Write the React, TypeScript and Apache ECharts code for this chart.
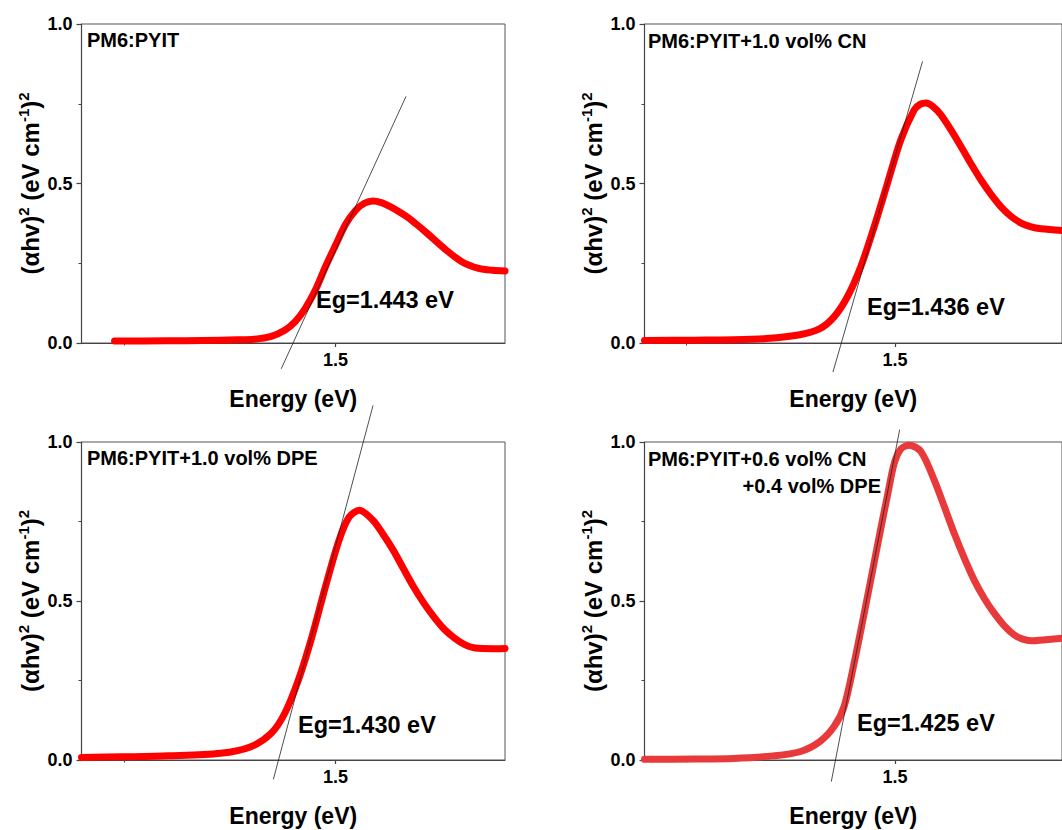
import React, { useEffect, useRef } from "react";
import * as echarts from "echarts";

const FONT = "'Liberation Sans', Arial, Helvetica, sans-serif";

// ---- data (energy in eV, (αhv)^2 normalised) ----
const energy1 = [1.239, 1.3, 1.343, 1.384, 1.404, 1.424, 1.44, 1.452, 1.464, 1.476, 1.488, 1.5, 1.512, 1.524, 1.534, 1.544, 1.554, 1.564, 1.574, 1.584, 1.596, 1.608, 1.628, 1.649, 1.669, 1.685, 1.7];
const absorb1 = [0.006, 0.007, 0.008, 0.01, 0.012, 0.021, 0.04, 0.066, 0.108, 0.165, 0.239, 0.307, 0.373, 0.417, 0.438, 0.445, 0.44, 0.428, 0.413, 0.396, 0.371, 0.344, 0.297, 0.255, 0.234, 0.228, 0.226];

const energy2 = [1.2, 1.26, 1.306, 1.346, 1.386, 1.41, 1.427, 1.443, 1.459, 1.475, 1.491, 1.507, 1.523, 1.53, 1.537, 1.545, 1.555, 1.567, 1.579, 1.591, 1.603, 1.615, 1.627, 1.639, 1.651, 1.663, 1.675, 1.7];
const absorb2 = [0.008, 0.009, 0.01, 0.014, 0.026, 0.045, 0.082, 0.145, 0.239, 0.364, 0.501, 0.637, 0.731, 0.748, 0.752, 0.742, 0.715, 0.668, 0.616, 0.562, 0.511, 0.466, 0.427, 0.397, 0.376, 0.364, 0.358, 0.353];

const energy3 = [1.2, 1.25, 1.303, 1.364, 1.4, 1.424, 1.44, 1.456, 1.472, 1.488, 1.504, 1.516, 1.528, 1.544, 1.556, 1.568, 1.58, 1.592, 1.604, 1.616, 1.628, 1.641, 1.653, 1.665, 1.685, 1.7];
const absorb3 = [0.008, 0.01, 0.013, 0.021, 0.042, 0.084, 0.147, 0.251, 0.387, 0.545, 0.691, 0.764, 0.785, 0.754, 0.71, 0.66, 0.602, 0.545, 0.494, 0.45, 0.412, 0.382, 0.362, 0.352, 0.35, 0.351];

const energy4 = [1.2, 1.26, 1.306, 1.354, 1.386, 1.41, 1.427, 1.439, 1.451, 1.467, 1.483, 1.491, 1.499, 1.507, 1.517, 1.531, 1.547, 1.559, 1.571, 1.583, 1.595, 1.607, 1.619, 1.631, 1.643, 1.653, 1.663, 1.683, 1.7];
const absorb4 = [0.002, 0.003, 0.005, 0.013, 0.026, 0.058, 0.105, 0.168, 0.304, 0.513, 0.728, 0.832, 0.932, 0.978, 0.99, 0.97, 0.88, 0.797, 0.712, 0.635, 0.565, 0.508, 0.461, 0.422, 0.393, 0.38, 0.375, 0.379, 0.383];

// tangent lines (linear fits of the absorption edge)
const tangent1E = [1.4358, 1.5831];
const tangent1V = [-0.081, 0.773];
const tangent2E = [1.4257, 1.533];
const tangent2V = [-0.091, 0.883];
const tangent3E = [1.4265, 1.5442];
const tangent3V = [-0.061, 1.115];
const tangent4E = [1.4237, 1.5056];
const tangent4V = [-0.068, 1.039];

const sampleNames = [
  ["PM6:PYIT"],
  ["PM6:PYIT+1.0 vol% CN"],
  ["PM6:PYIT+1.0 vol% DPE"],
  ["PM6:PYIT+0.6 vol% CN", "+0.4 vol% DPE"],
];
const gapLabels = ["Eg=1.443 eV", "Eg=1.436 eV", "Eg=1.430 eV", "Eg=1.425 eV"];

const xMajorTicks = [1.5];
const xMinorTicks = [1.25];
const xMin = 1.2;
const xMax = 1.7;
const yMin = 0;
const yMax = 1;
const yInterval = 0.5;

const xTitle = "Energy (eV)";
const yTitle = "{a|(αhv)}{s|2}{a| (eV cm}{s|-1}{a|)}{s|2}";

// ---- layout ----
const grids = [
  { left: 81.5, top: 24, width: 423.5, height: 319 },
  { left: 644.5, top: 24, width: 423.5, height: 319 },
  { left: 81.5, top: 442, width: 423.5, height: 318 },
  { left: 644.5, top: 442, width: 423.5, height: 318 },
];
const curveColors = ["#ff0000", "#ff0000", "#ff0000", "#e8393b"];
const nameStyle = [
  [{ x: 87, y: 40 }],
  [{ x: 648, y: 41 }],
  [{ x: 87, y: 457.5 }],
  [{ x: 648, y: 459 }, { x: 881, y: 486, align: "right" }],
];
const gapStyle = [
  { x: 316, y: 300 },
  { x: 867, y: 307 },
  { x: 298, y: 725 },
  { x: 857, y: 723 },
];

function zip(xs: number[], ys: number[]) {
  return xs.map((x, i) => [x, ys[i]]);
}

const curves = [
  zip(energy1, absorb1),
  zip(energy2, absorb2),
  zip(energy3, absorb3),
  zip(energy4, absorb4),
];
const tangents = [
  zip(tangent1E, tangent1V),
  zip(tangent2E, tangent2V),
  zip(tangent3E, tangent3V),
  zip(tangent4E, tangent4V),
];

const AXIS_COLOR = "#444";

function buildOption() {
  const xAxis: any[] = [];
  const yAxis: any[] = [];
  const series: any[] = [];
  const graphic: any[] = [];

  grids.forEach((g, i) => {
    xAxis.push({
      gridIndex: i,
      type: "value",
      min: xMin,
      max: xMax,
      position: "bottom",
      name: xTitle,
      nameLocation: "middle",
      nameGap: 44,
      nameTextStyle: {
        fontFamily: FONT,
        fontWeight: "bold",
        fontSize: 23,
        color: "#000",
      },
      axisLine: { show: true, lineStyle: { color: AXIS_COLOR, width: 1.2 } },
      axisTick: { show: true, length: 4, customValues: xMajorTicks, lineStyle: { color: AXIS_COLOR, width: 1.2 } },
      axisLabel: {
        show: true,
        customValues: xMajorTicks,
        margin: 8,
        fontFamily: FONT,
        fontWeight: "bold",
        fontSize: 18,
        color: "#000",
        formatter: (v: number) => v.toFixed(1),
      },
      splitLine: { show: false },
    });
    xAxis.push({
      gridIndex: i,
      type: "value",
      min: xMin,
      max: xMax,
      position: "bottom",
      axisLine: { show: false },
      axisTick: { show: true, length: 2.5, customValues: xMinorTicks, lineStyle: { color: AXIS_COLOR, width: 1 } },
      axisLabel: { show: false },
      splitLine: { show: false },
    });
    yAxis.push({
      gridIndex: i,
      type: "value",
      min: yMin,
      max: yMax,
      interval: yInterval,
      name: yTitle,
      nameLocation: "middle",
      nameGap: 36,
      nameRotate: 90,
      nameTextStyle: {
        fontFamily: FONT,
        fontWeight: "bold",
        fontSize: 24,
        color: "#000",
        rich: {
          a: { fontFamily: FONT, fontWeight: "bold", fontSize: 24, color: "#000", lineHeight: 30 },
          s: { fontFamily: FONT, fontWeight: "bold", fontSize: 15, color: "#000", lineHeight: 16, verticalAlign: "top" },
        },
      },
      axisLine: { show: true, lineStyle: { color: AXIS_COLOR, width: 1.2 } },
      axisTick: { show: true, length: 5, lineStyle: { color: AXIS_COLOR, width: 1.2 } },
      minorTick: { show: true, splitNumber: 2, length: 3, lineStyle: { color: AXIS_COLOR, width: 1 } },
      axisLabel: {
        margin: 9,
        fontFamily: FONT,
        fontWeight: "bold",
        fontSize: 18,
        color: "#000",
        formatter: (v: number) => v.toFixed(1),
      },
      splitLine: { show: false },
      minorSplitLine: { show: false },
    });
    series.push({
      type: "line",
      xAxisIndex: i * 2,
      yAxisIndex: i,
      data: curves[i],
      showSymbol: false,
      symbol: "none",
      smooth: 0.3,
      lineStyle: { color: curveColors[i], width: 7, cap: "round", join: "round" },
      silent: true,
      clip: false,
      z: 2,
    });
    series.push({
      type: "line",
      xAxisIndex: i * 2,
      yAxisIndex: i,
      data: tangents[i],
      showSymbol: false,
      symbol: "none",
      lineStyle: { color: "#222", width: 0.8 },
      silent: true,
      clip: false,
      z: 3,
    });

    sampleNames[i].forEach((t, k) => {
      const p: any = nameStyle[i][k];
      graphic.push({
        type: "text",
        x: p.x,
        y: p.y,
        z: 10,
        style: {
          text: t,
          fill: "#000",
          font: `bold 20px ${FONT}`,
          align: p.align || "left",
          verticalAlign: "middle",
        },
      });
    });
    graphic.push({
      type: "text",
      x: gapStyle[i].x,
      y: gapStyle[i].y,
      z: 10,
      style: {
        text: gapLabels[i],
        fill: "#000",
        font: `bold 23.5px ${FONT}`,
        align: "left",
        verticalAlign: "middle",
      },
    });
  });

  return {
    animation: false,
    backgroundColor: "#ffffff",
    grid: grids.map((g) => ({
      left: g.left,
      top: g.top,
      width: g.width,
      height: g.height,
      show: true,
      borderColor: "#555",
      borderWidth: 1,
      backgroundColor: "transparent",
      containLabel: false,
    })),
    xAxis,
    yAxis,
    series,
    graphic,
  };
}

export default function App() {
  const ref = useRef<HTMLDivElement>(null);
  useEffect(() => {
    if (!ref.current) return;
    const chart = echarts.init(ref.current, null, { renderer: "svg" });
    chart.setOption(buildOption() as any);
    return () => chart.dispose();
  }, []);
  return (
    <div
      ref={ref}
      style={{ position: "absolute", left: 0, top: 0, width: 1062, height: 830, background: "#fff" }}
    />
  );
}
